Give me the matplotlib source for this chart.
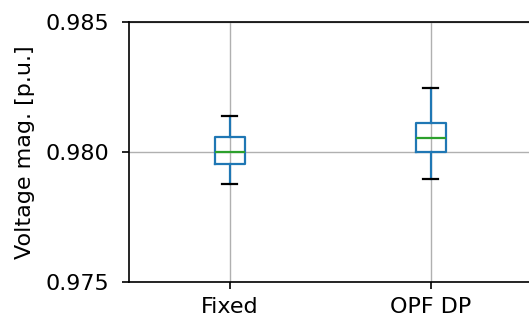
import matplotlib
matplotlib.use("Agg")
import matplotlib.pyplot as plt

# box statistics (p.u.)
labels = ["Fixed", "OPF DP"]
whislo = [0.97877, 0.97896]
q1 = [0.97953, 0.98001]
med = [0.97999, 0.98053]
q3 = [0.98059, 0.98110]
whishi = [0.98138, 0.98245]

stats = []
for i in range(len(labels)):
    stats.append({"label": labels[i], "whislo": whislo[i], "q1": q1[i],
                  "med": med[i], "q3": q3[i], "whishi": whishi[i], "fliers": []})

plt.rcParams["font.size"] = 16

fig = plt.figure(figsize=(5.29, 3.23), dpi=100)
ax = fig.add_axes([0.244, 0.127, 0.76, 0.805])

ax.bxp(stats, positions=[1, 2], widths=0.15,
       boxprops=dict(color="#1f77b4", linewidth=1.6),
       whiskerprops=dict(color="#1f77b4", linewidth=1.6),
       capprops=dict(color="black", linewidth=1.6),
       medianprops=dict(color="#2ca02c", linewidth=1.6),
       showfliers=False)

ax.set_xlim(0.5, 2.5)
ax.set_ylim(0.975, 0.985)
ax.set_yticks([0.975, 0.980, 0.985])
ax.set_yticklabels(["0.975", "0.980", "0.985"])
ax.set_ylabel("Voltage mag. [p.u.]", labelpad=8)
ax.grid(True, color="#b0b0b0", linewidth=1.0)
for s in ax.spines.values():
    s.set_linewidth(1.2)
ax.tick_params(axis="y", width=1.2, length=5, pad=9)
ax.tick_params(axis="x", width=1.2, length=5, pad=6)

fig.savefig("out.png", dpi=100)
